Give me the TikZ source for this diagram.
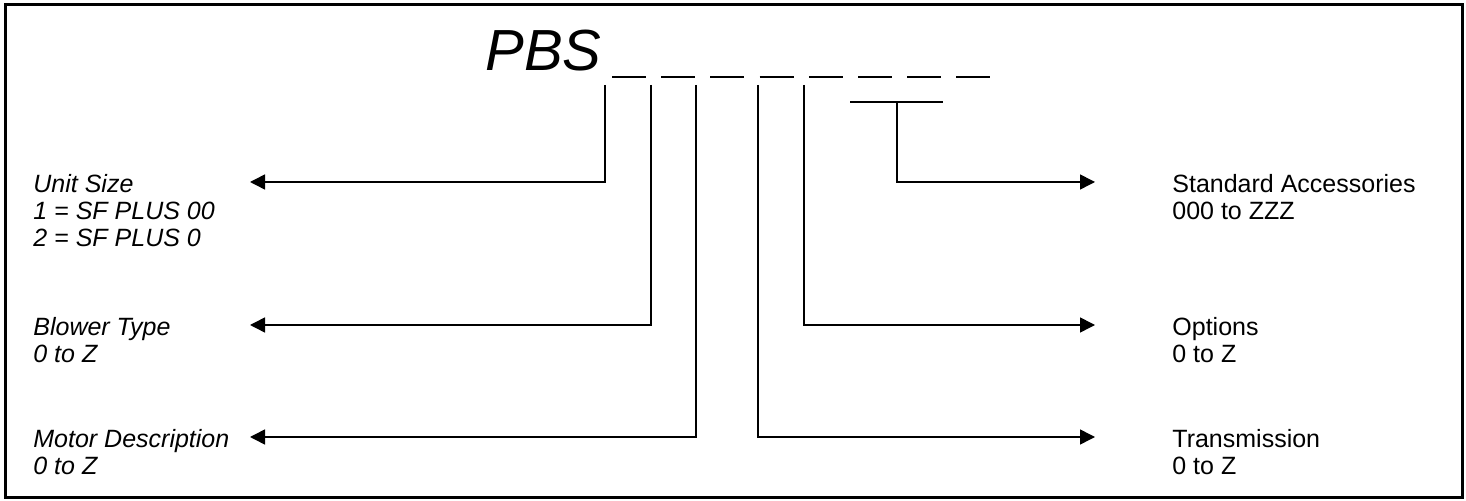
\documentclass[tikz,border=0pt]{standalone}
\usepackage{fontspec}
\setmainfont{Liberation Sans}
\usetikzlibrary{arrows.meta}
\tikzset{
  lbl/.style={anchor=north west,inner sep=0pt,align=left,font=\fontsize{12.5}{13.5}\selectfont},
  ilbl/.style={lbl,font=\fontsize{12.5}{13.5}\selectfont\itshape},
  conn/.style={line width=.75pt},
}
\begin{document}
\begin{tikzpicture}[x=.5pt,y=-.5pt,>={Triangle[length=7.5pt,width=7.5pt]},line join=miter]
    \useasboundingbox (0,0) rectangle (1466,501);
    \draw[line width=1.5pt] (5,5) rectangle (1462,498);
    % model code
    \node[anchor=base west,inner sep=0pt,font=\fontsize{29}{34}\selectfont\itshape] (code) at (485,71) {PBS};
    \foreach \i in {0,...,7}
        \draw[line width=1.4pt] (612+49.2*\i,77) -- ++(34,0);
    % start points under the blanks
    \coordinate (unitTop) at (605,85);
    \coordinate (blowTop) at (651,85);
    \coordinate (motTop) at (696,85);
    \coordinate (transTop) at (758,85);
    \coordinate (optTop) at (804,85);
    \coordinate (accL) at (850,102);
    \coordinate (accR) at (943,102);
    \coordinate (accMid) at (897,102);
    % arrow ends
    \coordinate (unitTip) at (250,182);
    \coordinate (blowTip) at (250,325);
    \coordinate (motTip) at (250,437);
    \coordinate (accTip) at (1095,182);
    \coordinate (optTip) at (1095,325);
    \coordinate (transTip) at (1095,437);
    % labels
    \node[ilbl] (unit) at (33,174) {Unit Size\\1 = SF PLUS 00\\2 = SF PLUS 0};
    \node[ilbl] (blower) at (33,317) {Blower Type\\0 to Z};
    \node[ilbl] (motor) at (33,429) {Motor Description\\0 to Z};
    \node[lbl] (access) at (1172,174) {Standard Accessories\\000 to ZZZ};
    \node[lbl] (options) at (1172,317) {Options\\0 to Z};
    \node[lbl] (trans) at (1172,429) {Transmission\\0 to Z};
    % connectors
    \draw[conn,->] (unitTop) |- (unitTip);
    \draw[conn,->] (blowTop) |- (blowTip);
    \draw[conn,->] (motTop) |- (motTip);
    \draw[conn,->] (transTop) |- (transTip);
    \draw[conn,->] (optTop) |- (optTip);
    \draw[conn] (accL) -- (accR);
    \draw[conn,->] (accMid) |- (accTip);
\end{tikzpicture}
\end{document}
